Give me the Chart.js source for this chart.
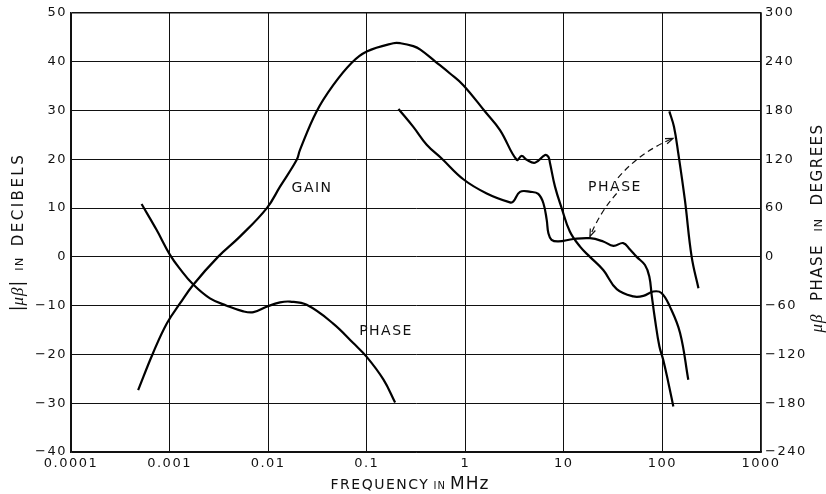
<!DOCTYPE html>
<html>
<head>
<meta charset="utf-8">
<script src="https://cdn.jsdelivr.net/npm/chart.js@4.4.1/dist/chart.umd.min.js"></script>
<style>
  html, body { margin: 0; padding: 0; background: #fff; }
  #wrap { width: 826px; height: 494px; }
</style>
</head>
<body>
<div id="wrap"><canvas id="bode" width="826" height="494"></canvas></div>
<script>
// decade ticks on the frequency axis (MHz)
const freqTicks = [0.0001, 0.001, 0.01, 0.1, 1, 10, 100, 1000];
const freqTickLabels = ['0.0001', '0.001', '0.01', '0.1', '1', '10', '100', '1000'];
const dbTickLabels = ['−40', '−30', '−20', '−10', '0', '10', '20', '30', '40', '50'];
const degTickLabels = ['−240', '−180', '−120', '−60', '0', '60', '120', '180', '240', '300'];

// gain |mu beta| in dB
const gainFreq = [0.00048, 0.00068, 0.00094, 0.00128, 0.00174, 0.0031, 0.0052, 0.0097, 0.0132, 0.0195,
  0.021, 0.031, 0.0457, 0.0705, 0.1, 0.186, 0.22, 0.297, 0.35, 0.5, 0.7, 0.955, 1.585, 2.25, 3.32,
  3.73, 4.2, 5.1, 6.45, 6.97, 7.24, 8.13, 9.5, 11.5, 14.6, 18.4, 25.1, 34.4, 50.7, 64, 80.8, 97.8,
  119, 151, 183];
const gainDb = [-27.3, -19.7, -13.6, -9.5, -5.7, 0, 4.2, 10, 14.4, 19.9,
  21.9, 29.8, 35.2, 39.8, 42.1, 43.8, 43.8, 43.2, 42.5, 40, 37.6, 35.2, 29.8, 26, 19.9,
  20.7, 19.9, 19.3, 20.9, 20.5, 19.2, 14.4, 10, 5.2, 2.1, 0, -2.7, -6.6, -8.1, -8, -7.1, -7.4,
  -10.2, -15.6, -25.2];

// phase, low frequency branch (degrees)
const phaseLowFreq = [0.00052, 0.00074, 0.00101, 0.00128, 0.00174, 0.00257, 0.0038, 0.0056, 0.0071,
  0.0098, 0.0132, 0.0167, 0.0246, 0.0457, 0.073, 0.1, 0.148, 0.194];
const phaseLowDeg = [65, 33, 2.5, -15, -34, -51, -60, -67, -68,
  -61, -56, -55, -59, -82, -106, -123, -151, -179];

// phase, main branch
const phaseMidFreq = [0.21, 0.297, 0.406, 0.576, 0.955, 1.65, 2.84, 3.07, 3.59, 4.6, 5.5, 6.2, 6.7,
  6.97, 7.5, 8.8, 12.5, 18.4, 25.1, 31.8, 40, 46.9, 54.8, 66.5, 73.6, 77.8, 84.1, 93.1, 102, 115, 129];
const phaseMidDeg = [182, 160, 138, 121, 95.5, 78, 67, 68, 80, 80, 77.5, 66, 45.5,
  29, 21, 19, 22, 23, 19, 13.5, 17, 9, 0, -10, -24, -47, -77, -110, -127, -155, -184];

// phase, wrapped branch above 100 MHz
const phaseHighFreq = [117.5, 131, 145, 169, 198, 232];
const phaseHighDeg = [179, 160, 127, 70, 0, -38.5];

// curve labels and pointer arrows (frequency, dB)
const curveLabels = [
  { text: 'GAIN', f: 0.0279, db: 14.1 },
  { text: 'PHASE', f: 0.157, db: -15.2 },
  { text: 'PHASE', f: 33, db: 14.3 }
];
const pointers = [
  { from: [34.3, 13], ctrl: [23.3, 9.2], to: [18.4, 4.2] },
  { from: [35.4, 16.2], ctrl: [59.3, 21.5], to: [128, 24.3] }
];

const pts = (xs, ys) => xs.map((x, i) => ({ x: x, y: ys[i] }));
const FONT = "'DejaVu Sans', sans-serif";
const INK = '#111';

function drawParts(ctx, parts, cx, cy, rot) {
  ctx.save();
  ctx.translate(cx, cy);
  ctx.rotate(rot);
  ctx.fillStyle = INK;
  ctx.textBaseline = 'alphabetic';
  ctx.textAlign = 'left';
  const widths = parts.map(p => {
    ctx.font = p.font;
    ctx.letterSpacing = p.ls || '0px';
    return ctx.measureText(p.text).width;
  });
  let x = -widths.reduce((a, b) => a + b, 0) / 2;
  parts.forEach((p, i) => {
    ctx.font = p.font;
    ctx.letterSpacing = p.ls || '0px';
    ctx.fillText(p.text, x, 0);
    x += widths[i];
  });
  ctx.restore();
}

const decorPlugin = {
  id: 'decor',
  beforeDraw(chart) {
    chart.ctx.letterSpacing = '1.5px';
  },
  afterDatasetsDraw(chart) {
    const ctx = chart.ctx;
    const sx = chart.scales.x, sy = chart.scales.y;
    const px = (f, db) => [sx.getPixelForValue(f), sy.getPixelForValue(db)];

    ctx.save();
    ctx.fillStyle = INK;
    ctx.font = '14px ' + FONT;
    ctx.letterSpacing = '1.5px';
    ctx.textAlign = 'center';
    ctx.textBaseline = 'middle';
    curveLabels.forEach(l => {
      const p = px(l.f, l.db);
      ctx.fillText(l.text, p[0], p[1]);
    });

    ctx.strokeStyle = INK;
    ctx.lineWidth = 1.2;
    pointers.forEach(a => {
      const s = px(a.from[0], a.from[1]);
      const c = px(a.ctrl[0], a.ctrl[1]);
      const e = px(a.to[0], a.to[1]);
      ctx.setLineDash([6, 4]);
      ctx.beginPath();
      ctx.moveTo(s[0], s[1]);
      ctx.quadraticCurveTo(c[0], c[1], e[0], e[1]);
      ctx.stroke();
      ctx.setLineDash([]);
      const ang = Math.atan2(e[1] - c[1], e[0] - c[0]);
      ctx.beginPath();
      ctx.moveTo(e[0] - 8 * Math.cos(ang - 0.35), e[1] - 8 * Math.sin(ang - 0.35));
      ctx.lineTo(e[0], e[1]);
      ctx.lineTo(e[0] - 8 * Math.cos(ang + 0.35), e[1] - 8 * Math.sin(ang + 0.35));
      ctx.stroke();
    });
    ctx.restore();

    // axis titles
    const serifIt = "italic 17px 'Liberation Serif', serif";
    drawParts(ctx, [
      { text: '|', font: '17px ' + FONT },
      { text: 'μβ', font: serifIt, ls: '1px' },
      { text: '|', font: '17px ' + FONT },
      { text: '  IN  ', font: '11px ' + FONT, ls: '1.5px' },
      { text: 'DECIBELS', font: '15px ' + FONT, ls: '2.5px' }
    ], 23, 232, -Math.PI / 2);
    drawParts(ctx, [
      { text: 'μβ', font: serifIt, ls: '1px' },
      { text: '  PHASE  ', font: '15px ' + FONT, ls: '1.5px' },
      { text: 'IN', font: '11px ' + FONT, ls: '1px' },
      { text: '  DEGREES', font: '15px ' + FONT, ls: '1.5px' }
    ], 822, 228, -Math.PI / 2);
    drawParts(ctx, [
      { text: 'FREQUENCY', font: '14px ' + FONT, ls: '1.5px' },
      { text: ' IN ', font: '10px ' + FONT, ls: '1px' },
      { text: 'MHz', font: '17px ' + FONT, ls: '1px' }
    ], 410, 489, 0);
  }
};

const lineStyle = {
  borderColor: '#000',
  borderWidth: 2.2,
  pointRadius: 0,
  fill: false,
  tension: 0.4
};

new Chart(document.getElementById('bode'), {
  type: 'line',
  data: {
    datasets: [
      Object.assign({ label: 'Gain', data: pts(gainFreq, gainDb), yAxisID: 'y' }, lineStyle),
      Object.assign({ label: 'Phase low', data: pts(phaseLowFreq, phaseLowDeg), yAxisID: 'y2' }, lineStyle),
      Object.assign({ label: 'Phase', data: pts(phaseMidFreq, phaseMidDeg), yAxisID: 'y2' }, lineStyle),
      Object.assign({ label: 'Phase high', data: pts(phaseHighFreq, phaseHighDeg), yAxisID: 'y2' }, lineStyle)
    ]
  },
  options: {
    responsive: false,
    animation: false,
    devicePixelRatio: 1,
    layout: { padding: { top: 13, left: 0, right: 0, bottom: 0 } },
    plugins: { legend: { display: false }, tooltip: { enabled: false } },
    scales: {
      x: {
        type: 'logarithmic',
        min: 0.0001,
        max: 1000,
        afterBuildTicks: s => { s.ticks = freqTicks.map(v => ({ value: v })); },
        afterFit: s => { s.height = 42; },
        grid: { color: INK, lineWidth: c => (c.tick && c.tick.value === 1000 ? 1.6 : 1), drawTicks: false },
        border: { color: INK, width: 1.6 },
        ticks: {
          autoSkip: false, maxRotation: 0, padding: 4, color: INK,
          font: { family: FONT, size: 13 },
          callback: (v, i) => freqTickLabels[i]
        }
      },
      y: {
        position: 'left',
        min: -40,
        max: 50,
        afterFit: s => { s.width = 71; },
        grid: { color: INK, lineWidth: c => (c.tick && c.tick.value === 50 ? 1.6 : 1), drawTicks: false },
        border: { color: INK, width: 1.6 },
        ticks: {
          stepSize: 10, padding: 4, color: INK,
          font: { family: FONT, size: 13 },
          callback: (v, i) => dbTickLabels[i]
        }
      },
      y2: {
        position: 'right',
        min: -240,
        max: 300,
        afterFit: s => { s.width = 65; },
        grid: { drawOnChartArea: false, drawTicks: false },
        border: { color: INK, width: 1.6 },
        ticks: {
          stepSize: 60, padding: 4, color: INK,
          font: { family: FONT, size: 13 },
          callback: (v, i) => degTickLabels[i]
        }
      }
    }
  },
  plugins: [decorPlugin]
});
</script>
</body>
</html>
